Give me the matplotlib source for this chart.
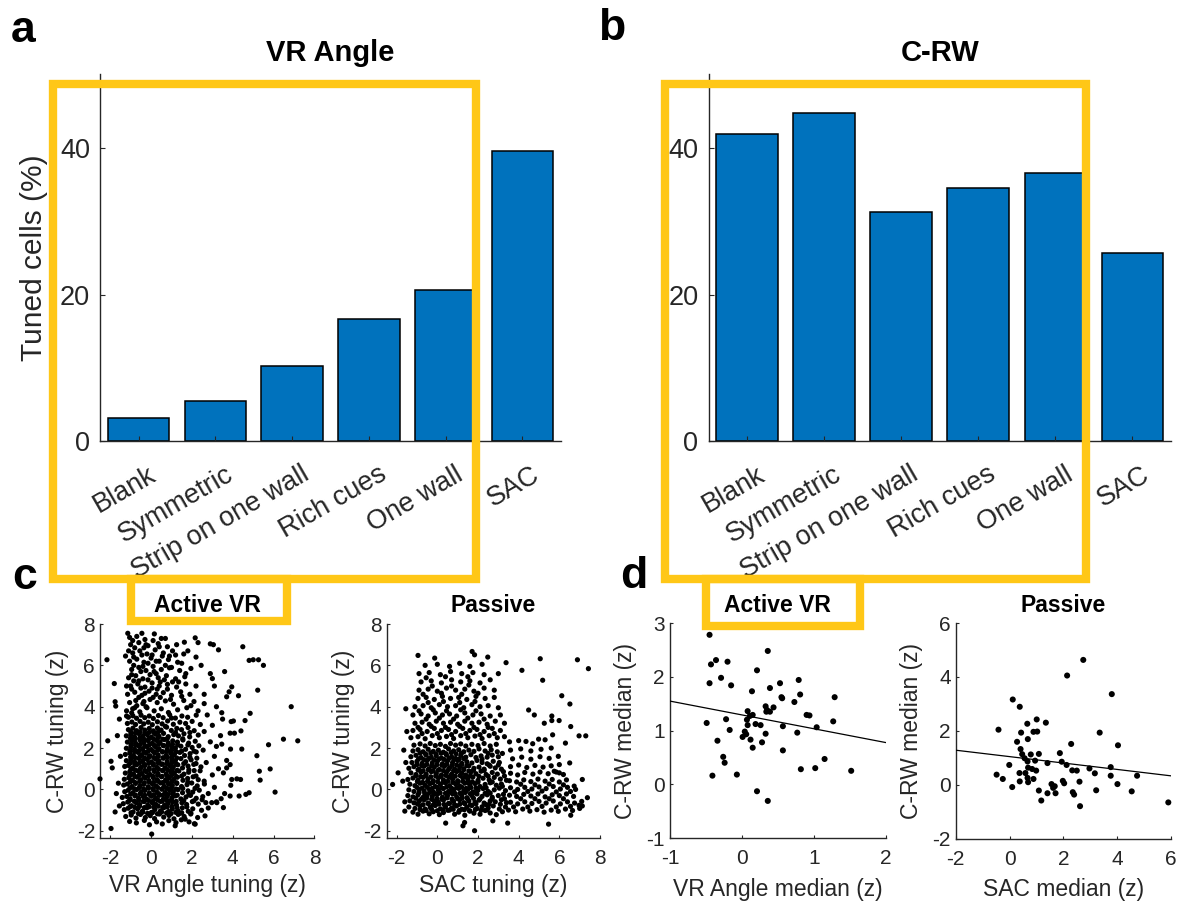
import numpy as np
import matplotlib
matplotlib.use("Agg")
import matplotlib.pyplot as plt
from matplotlib.patches import Rectangle
from matplotlib.transforms import ScaledTranslation

plt.rcParams["font.family"] = ["Liberation Sans", "DejaVu Sans"]
plt.rcParams["axes.unicode_minus"] = False

# ---------------------------------------------------------------- data
CONDITIONS = ["Blank", "Symmetric", "Strip on one wall", "Rich cues", "One wall", "SAC"]
VR_ANGLE_TUNED_PCT = [3.2, 5.5, 10.2, 16.7, 20.6, 39.6]
CRW_TUNED_PCT = [41.9, 44.8, 31.2, 34.5, 36.6, 25.6]
BAR_YTICKS = [0, 20, 40]

# single cells: (VR Angle tuning z, C-RW tuning z)
ACTIVE_TUNING = [
    # bulk of the population
    (-1.05,-1.55),(-0.72,-1.62),(-0.33,-1.5),(-0.08,-1.71),(0.27,-1.57),(0.55,-1.67),(0.87,-1.51),(1.22,-1.61),(1.48,-1.47),(1.86,-1.57),(2.12,-1.66),
    (-1.24,-1.31),(-0.97,-1.24),(-0.74,-1.39),(-0.52,-1.21),(-0.28,-1.36),(-0.04,-1.27),(0.17,-1.41),(0.41,-1.19),(0.62,-1.34),(0.88,-1.26),(1.12,-1.42),(1.33,-1.21),(1.62,-1.31),(1.94,-1.19),(2.28,-1.36),
    (-1.31,-0.98),(-1.12,-0.91),(-0.88,-1.09),(-0.66,-0.94),(-0.43,-1.06),(-0.21,-0.89),(0.02,-1.11),(0.19,-0.97),(0.46,-1.04),(0.63,-0.88),(0.86,-1.07),(1.04,-0.94),(1.31,-1.03),(1.53,-0.89),(1.82,-1.06),(2.04,-0.94),(2.47,-1.01),
    (-1.36,-0.69),(-1.14,-0.61),(-0.96,-0.79),(-0.74,-0.64),(-0.56,-0.73),(-0.33,-0.59),(-0.16,-0.76),(0.06,-0.65),(0.24,-0.73),(0.46,-0.58),(0.66,-0.77),(0.84,-0.67),(1.06,-0.61),(1.24,-0.75),(1.51,-0.65),(1.74,-0.73),(2.02,-0.59),(2.31,-0.71),(2.68,-0.64),
    (-1.41,-0.39),(-1.19,-0.34),(-1.02,-0.46),(-0.79,-0.31),(-0.61,-0.43),(-0.38,-0.35),(-0.21,-0.47),(0.01,-0.33),(0.22,-0.43),(0.39,-0.29),(0.61,-0.45),(0.79,-0.35),(1.02,-0.41),(1.19,-0.31),(1.46,-0.46),(1.71,-0.37),(1.93,-0.29),(2.21,-0.43),(2.53,-0.35),
    (-1.29,-0.11),(-1.12,-0.04),(-0.89,-0.16),(-0.71,-0.01),(-0.49,-0.13),(-0.31,-0.05),(-0.09,-0.17),(0.11,-0.03),(0.29,-0.13),(0.52,0.01),(0.69,-0.15),(0.91,-0.05),(1.09,-0.11),(1.32,-0.01),(1.54,-0.16),(1.81,-0.07),(2.04,-0.13),(2.36,-0.04),
    (-1.34,0.21),(-1.16,0.26),(-0.94,0.14),(-0.76,0.29),(-0.54,0.17),(-0.36,0.25),(-0.14,0.13),(0.06,0.27),(0.24,0.17),(0.46,0.31),(0.64,0.15),(0.86,0.25),(1.04,0.19),(1.26,0.29),(1.49,0.14),(1.76,0.23),(1.99,0.31),(2.26,0.17),(2.61,0.26),
    (-1.31,0.49),(-1.09,0.56),(-0.91,0.44),(-0.69,0.59),(-0.51,0.47),(-0.29,0.55),(-0.11,0.43),(0.11,0.57),(0.29,0.47),(0.51,0.61),(0.71,0.45),(0.89,0.55),(1.11,0.49),(1.29,0.59),(1.56,0.44),(1.79,0.53),(2.06,0.61),(2.31,0.47),
    (-1.26,0.79),(-1.04,0.86),(-0.86,0.74),(-0.64,0.89),(-0.46,0.77),(-0.24,0.85),(-0.06,0.73),(0.16,0.87),(0.34,0.77),(0.56,0.91),(0.74,0.75),(0.96,0.85),(1.14,0.79),(1.36,0.89),(1.61,0.74),(1.84,0.83),(2.11,0.91),
    (-1.29,1.11),(-1.11,1.16),(-0.89,1.04),(-0.71,1.19),(-0.49,1.07),(-0.31,1.15),(-0.09,1.03),(0.11,1.17),(0.29,1.07),(0.51,1.21),(0.69,1.05),(0.91,1.15),(1.09,1.09),(1.31,1.19),(1.54,1.04),(1.81,1.13),(2.09,1.21),(2.44,1.09),
    (-1.21,1.39),(-0.99,1.46),(-0.81,1.34),(-0.59,1.49),(-0.41,1.37),(-0.19,1.45),(0.01,1.33),(0.21,1.47),(0.39,1.37),(0.61,1.51),(0.79,1.35),(1.01,1.45),(1.19,1.39),(1.46,1.49),(1.69,1.34),(1.96,1.43),(2.24,1.51),
    (-1.26,1.69),(-1.04,1.76),(-0.86,1.64),(-0.64,1.79),(-0.46,1.67),(-0.24,1.75),(-0.06,1.63),(0.16,1.77),(0.34,1.67),(0.56,1.81),(0.74,1.65),(0.96,1.75),(1.14,1.69),(1.41,1.79),(1.64,1.64),(1.91,1.73),(2.21,1.81),
    (-1.21,1.99),(-0.99,2.06),(-0.81,1.94),(-0.59,2.09),(-0.41,1.97),(-0.19,2.05),(0.01,1.93),(0.21,2.07),(0.39,1.97),(0.61,2.11),(0.79,1.95),(1.01,2.05),(1.19,1.99),(1.46,2.09),(1.69,1.94),(2.01,2.03),(2.34,2.11),
    (-1.16,2.29),(-0.94,2.36),(-0.76,2.24),(-0.54,2.39),(-0.36,2.27),(-0.14,2.35),(0.06,2.23),(0.26,2.37),(0.44,2.27),(0.66,2.41),(0.84,2.25),(1.06,2.35),(1.29,2.29),(1.56,2.39),(1.84,2.24),(2.16,2.33),
    (-1.21,2.59),(-0.99,2.66),(-0.81,2.54),(-0.59,2.69),(-0.41,2.57),(-0.19,2.65),(0.01,2.53),(0.21,2.67),(0.39,2.57),(0.61,2.71),(0.84,2.55),(1.11,2.65),(1.34,2.59),(1.61,2.69),(1.89,2.54),(2.31,2.63),
    (-1.11,2.89),(-0.89,2.96),(-0.71,2.84),(-0.49,2.99),(-0.31,2.87),(-0.09,2.95),(0.11,2.83),(0.31,2.97),(0.49,2.87),(0.76,3.01),(0.99,2.85),(1.26,2.95),(1.49,2.89),(1.81,2.99),(2.11,2.84),
    (-1.16,3.19),(-0.94,3.26),(-0.76,3.14),(-0.54,3.29),(-0.36,3.17),(-0.14,3.25),(0.06,3.13),(0.31,3.27),(0.54,3.17),(0.81,3.31),(1.09,3.15),(1.41,3.25),(1.69,3.19),(2.01,3.29),(2.41,3.14),
    (-1.11,3.49),(-0.89,3.56),(-0.71,3.44),(-0.49,3.59),(-0.31,3.47),(-0.09,3.55),(0.11,3.43),(0.36,3.57),(0.59,3.47),(0.91,3.61),(1.19,3.45),(1.51,3.55),(1.79,3.49),(2.21,3.59),
    # densest part of the bulk
    (-0.98,-1.13),(-0.62,-1.17),(-0.4,-1.1),(-0.17,-1.16),(0.07,-1.12),(0.31,-1.18),(0.52,-1.09),(0.76,-1.14),(0.98,-1.17),(1.21,-1.11),(1.43,-1.15),
    (-1.02,-0.83),(-0.79,-0.87),(-0.57,-0.82),(-0.33,-0.88),(-0.1,-0.84),(0.13,-0.86),(0.35,-0.81),(0.57,-0.87),(0.79,-0.85),(1.02,-0.82),(1.27,-0.88),
    (-1.05,-0.53),(-0.82,-0.57),(-0.6,-0.52),(-0.38,-0.58),(-0.12,-0.54),(0.1,-0.56),(0.33,-0.51),(0.55,-0.57),(0.78,-0.55),(0.99,-0.52),(1.23,-0.58),
    (-1.0,-0.23),(-0.77,-0.27),(-0.54,-0.22),(-0.31,-0.28),(-0.08,-0.24),(0.14,-0.26),(0.37,-0.21),(0.58,-0.27),(0.82,-0.25),(1.05,-0.22),(1.28,-0.28),
    (-1.03,0.07),(-0.81,0.03),(-0.58,0.08),(-0.36,0.02),(-0.13,0.06),(0.09,0.04),(0.32,0.09),(0.55,0.03),(0.77,0.05),(1.0,0.08),(1.22,0.02),
    (-1.01,0.37),(-0.78,0.33),(-0.56,0.38),(-0.33,0.32),(-0.1,0.36),(0.12,0.34),(0.35,0.39),(0.57,0.33),(0.8,0.35),(1.03,0.38),(1.25,0.32),
    (-1.04,0.67),(-0.8,0.63),(-0.59,0.68),(-0.35,0.62),(-0.13,0.66),(0.09,0.64),(0.32,0.69),(0.54,0.63),(0.78,0.65),(1.0,0.68),(1.24,0.62),
    (-0.99,0.97),(-0.77,0.93),(-0.54,0.98),(-0.31,0.92),(-0.09,0.96),(0.14,0.94),(0.36,0.99),(0.59,0.93),(0.81,0.95),(1.04,0.98),(1.27,0.92),
    (-1.02,1.27),(-0.8,1.23),(-0.57,1.28),(-0.34,1.22),(-0.12,1.26),(0.11,1.24),(0.33,1.29),(0.56,1.23),(0.78,1.25),(1.01,1.28),(1.24,1.22),
    (-1.0,1.57),(-0.78,1.53),(-0.55,1.58),(-0.32,1.52),(-0.1,1.56),(0.13,1.54),(0.35,1.59),(0.58,1.53),(0.8,1.55),(1.03,1.58),(1.26,1.52),
    (-1.03,1.87),(-0.81,1.83),(-0.58,1.88),(-0.35,1.82),(-0.13,1.86),(0.1,1.84),(0.32,1.89),(0.55,1.83),(0.77,1.85),(1.0,1.88),(1.23,1.82),
    (-0.98,2.17),(-0.76,2.13),(-0.53,2.18),(-0.3,2.12),(-0.08,2.16),(0.15,2.14),(0.37,2.19),(0.6,2.13),(0.82,2.15),(1.05,2.18),
    (-1.01,2.47),(-0.79,2.43),(-0.56,2.48),(-0.33,2.42),(-0.11,2.46),(0.12,2.44),(0.34,2.49),(0.57,2.43),(0.79,2.45),
    (-0.99,2.77),(-0.77,2.73),(-0.54,2.78),(-0.31,2.72),(-0.09,2.76),(0.14,2.74),(0.36,2.79),
    (1.5,-1.13),(1.75,-0.85),(1.95,-1.15),(1.6,-0.55),(1.85,-0.25),(2.1,-0.55),(1.55,0.05),(1.8,0.35),(2.15,0.05),(1.5,0.65),
    (1.85,0.95),(2.2,0.65),(1.6,1.25),(1.9,1.55),(2.2,1.25),(1.5,1.85),(1.8,2.15),(2.1,1.85),(1.55,2.45),(1.9,2.75),
    (1.3,2.15),(1.2,2.75),(1.0,3.45),(0.7,3.05),
    # upper band
    (-1.2,3.8),(-0.9,3.9),(-0.55,3.75),(-0.2,3.95),(0.15,3.8),(0.5,3.9),(0.85,3.72),(1.3,3.85),(1.75,3.95),(2.3,3.8),
    (-1.05,4.2),(-0.75,4.3),(-0.4,4.15),(-0.05,4.35),(0.3,4.2),(0.7,4.28),(1.1,4.12),(1.6,4.3),(2.1,4.25),(2.6,4.15),
    (-1.15,4.6),(-0.8,4.7),(-0.45,4.55),(-0.1,4.75),(0.25,4.6),(0.6,4.68),(1.0,4.55),(1.45,4.72),(1.9,4.6),
    (-1.0,5.0),(-0.65,5.1),(-0.3,4.95),(0.05,5.15),(0.4,5.0),(0.8,5.08),(1.25,4.95),(1.7,5.1),(2.2,5.0),
    (-1.1,5.4),(-0.75,5.5),(-0.4,5.35),(-0.05,5.55),(0.35,5.4),(0.75,5.5),(1.2,5.35),(1.65,5.45),
    (-0.95,5.8),(-0.6,5.9),(-0.25,5.75),(0.1,5.95),(0.5,5.8),(0.9,5.88),(1.4,5.75),(1.95,5.85),
    (-1.05,6.2),(-0.7,6.3),(-0.35,6.15),(0.0,6.35),(0.4,6.2),(0.85,6.28),(1.3,6.15),
    (-0.9,6.6),(-0.55,6.7),(-0.2,6.55),(0.2,6.75),(0.6,6.6),(1.05,6.7),(1.6,6.55),
    (-1.0,7.0),(-0.6,7.1),(-0.15,6.95),(0.35,7.05),(0.8,6.9),(1.25,7.0),
    (-1.05,7.35),(-0.7,7.4),(-0.3,7.25),(0.5,7.3),
    (-0.95,3.7),(-0.7,4.05),(-0.25,4.0),(0.1,4.45),(-0.6,4.45),(-0.95,4.85),(-0.5,4.9),(-0.15,5.3),(-0.85,5.25),(0.15,5.7),
    (-0.5,5.7),(-0.85,6.0),(-0.15,6.1),(-0.45,6.5),(0.05,6.5),(-0.8,6.85),(-0.35,6.85),(0.1,7.2),(-0.9,7.2),(-0.45,7.55),
    (0.55,6.45),(0.65,5.3),(0.3,4.85),(1.0,5.9),(1.2,6.5),(0.95,4.35),(1.35,5.2),(-1.2,5.0),(-1.25,6.45),(-1.2,3.55),
    (-0.8,3.95),(-0.35,4.25),(0.45,4.45),(0.8,4.85),(-0.3,4.65),(0.05,4.9),(-0.6,5.25),(0.45,5.2),(1.05,5.2),(-0.95,5.55),
    (0.25,5.6),(0.7,6.0),(-0.4,5.95),(0.25,6.2),(-0.85,6.4),(0.4,6.9),(0.9,6.45),(-0.25,7.0),(0.7,7.3),(-1.1,6.7),
    (1.5,4.5),(1.95,4.05),(1.7,5.6),(1.5,6.1),
    # right flank
    (2.5,-0.5),(2.8,-0.2),(3.1,0.1),(2.6,0.4),(3.0,0.7),(3.3,1.0),(2.7,1.3),(3.1,1.6),(2.55,1.9),(2.9,2.3),
    (3.4,2.6),(2.6,2.8),(3.0,3.1),(3.5,3.4),(2.8,-0.9),(3.2,-0.6),(3.6,-0.2),(3.9,0.2),(2.4,0.9),(3.7,1.4),
    (2.75,3.6),(3.2,4.0),(2.6,4.6),(3.1,5.0),(2.9,5.6),(2.45,6.0),(3.6,5.7),(2.2,6.4),(1.8,6.7),(2.3,7.1),
    # left flank
    (-1.55,-0.8),(-1.6,0.3),(-1.5,1.6),(-1.65,2.6),(-1.55,3.4),(-1.7,-0.2),
    # isolated cells
    (0.16,7.52),(-1.14,7.55),(2.16,7.33),(2.9,7.04),(3.05,7.0),(3.3,6.75),(4.49,6.9),(1.63,7.12),(4.8,6.24),(5.0,6.27),
    (5.26,6.27),(5.5,6.0),(-2.16,6.27),(-1.8,5.12),(3.0,5.36),(3.95,4.96),(3.82,4.72),(3.7,4.48),(4.28,4.53),(5.22,4.8),
    (6.86,4.0),(4.85,3.68),(3.46,3.71),(3.92,3.28),(4.03,3.31),(4.6,3.33),(4.4,2.83),(4.08,2.72),(3.87,2.72),(6.48,2.43),
    (7.18,2.35),(5.75,2.16),(4.44,1.95),(3.89,1.95),(3.46,2.19),(3.2,2.08),(5.18,1.63),(5.83,0.99),(5.3,0.88),(5.34,0.45),
    (6.07,-0.13),(4.8,-0.16),(4.64,-0.24),(4.31,-0.32),(3.87,-0.32),(3.95,0.48),(4.2,0.51),(4.38,0.48),(3.54,0.8),(3.7,1.04),
    (3.87,1.2),(-2.12,2.35),(-2.5,0.51),(-1.96,-1.89),(0.03,-2.16),(-1.76,-1.09),(-1.96,1.36),(-1.9,1.04),(-1.76,4.24),(-1.73,4.03),
    (2.97,-0.64),(3.22,-0.64),(3.54,-0.88),(3.43,-0.45),(2.16,-1.68),(1.18,-1.76),(2.64,-1.28),(1.67,-1.44),
]

# single cells: (SAC tuning z, C-RW tuning z)
PASSIVE_TUNING = [
    # bulk of the population
    (-1.2,-1.1),(-0.95,-1.2),(-0.7,-1.05),(-0.4,-1.18),(-0.2,-1.08),(0.1,-1.22),(0.3,-1.12),(0.6,-1.0),(0.85,-1.2),(1.05,-1.1),(1.35,-1.25),(1.6,-1.05),(1.8,-1.15),(2.1,-1.2),(2.35,-1.02),(2.6,-1.14),(2.9,-1.22),(3.2,-1.08),
    (-1.4,-0.85),(-1.1,-0.92),(-0.85,-0.8),(-0.6,-0.95),(-0.35,-0.86),(-0.1,-0.78),(0.15,-0.94),(0.4,-0.84),(0.7,-0.9),(0.95,-0.8),(1.2,-0.96),(1.45,-0.86),(1.7,-0.78),(1.95,-0.92),(2.2,-0.84),(2.5,-0.9),(2.75,-0.8),(3.05,-0.95),(3.35,-0.85),
    (-1.35,-0.55),(-1.15,-0.65),(-0.9,-0.58),(-0.65,-0.5),(-0.45,-0.66),(-0.15,-0.56),(0.05,-0.62),(0.3,-0.52),(0.55,-0.68),(0.8,-0.58),(1.1,-0.5),(1.3,-0.64),(1.55,-0.56),(1.85,-0.62),(2.05,-0.52),(2.3,-0.66),(2.6,-0.56),(2.85,-0.6),(3.15,-0.5),(3.4,-0.64),
    (-1.45,-0.3),(-1.2,-0.36),(-0.95,-0.26),(-0.7,-0.38),(-0.5,-0.28),(-0.25,-0.34),(0.0,-0.24),(0.25,-0.38),(0.5,-0.3),(0.75,-0.22),(0.95,-0.36),(1.2,-0.28),(1.45,-0.4),(1.7,-0.3),(1.95,-0.22),(2.2,-0.34),(2.45,-0.26),(2.7,-0.38),(3.0,-0.3),(3.25,-0.24),
    (-1.4,-0.02),(-1.15,-0.1),(-0.9,0.0),(-0.65,-0.08),(-0.4,0.02),(-0.2,-0.12),(0.05,-0.04),(0.3,0.04),(0.55,-0.1),(0.8,-0.02),(1.05,0.05),(1.3,-0.08),(1.5,0.0),(1.75,-0.12),(2.0,-0.04),(2.25,0.04),(2.5,-0.1),(2.8,-0.02),(3.05,0.06),(3.35,-0.06),
    (-1.35,0.25),(-1.1,0.18),(-0.85,0.3),(-0.6,0.2),(-0.35,0.28),(-0.1,0.14),(0.15,0.24),(0.4,0.32),(0.6,0.18),(0.9,0.26),(1.1,0.16),(1.35,0.3),(1.6,0.2),(1.85,0.28),(2.1,0.14),(2.35,0.24),(2.6,0.32),(2.9,0.2),(3.15,0.26),
    (-1.45,0.48),(-1.2,0.55),(-0.95,0.45),(-0.7,0.58),(-0.45,0.5),(-0.2,0.42),(0.05,0.56),(0.3,0.46),(0.55,0.6),(0.75,0.5),(1.0,0.42),(1.25,0.56),(1.5,0.48),(1.75,0.6),(2.0,0.44),(2.25,0.54),(2.55,0.46),(2.8,0.58),(3.1,0.5),(3.4,0.44),
    (-1.3,0.8),(-1.05,0.72),(-0.8,0.84),(-0.55,0.74),(-0.3,0.86),(-0.05,0.76),(0.2,0.7),(0.45,0.82),(0.7,0.74),(0.95,0.86),(1.2,0.78),(1.4,0.7),(1.65,0.84),(1.9,0.76),(2.15,0.88),(2.4,0.72),(2.7,0.82),(2.95,0.74),(3.25,0.86),
    (-1.4,1.02),(-1.15,1.1),(-0.9,0.98),(-0.65,1.12),(-0.4,1.0),(-0.15,1.08),(0.1,0.96),(0.35,1.12),(0.6,1.04),(0.85,0.98),(1.1,1.1),(1.3,1.0),(1.55,1.14),(1.8,1.02),(2.05,1.08),(2.3,0.98),(2.6,1.12),(2.85,1.04),(3.15,0.98),
    (-1.25,1.3),(-1.0,1.36),(-0.75,1.26),(-0.5,1.4),(-0.25,1.28),(0.0,1.36),(0.25,1.24),(0.5,1.38),(0.75,1.3),(1.0,1.4),(1.2,1.26),(1.45,1.34),(1.7,1.28),(1.95,1.4),(2.2,1.3),(2.45,1.24),(2.75,1.36),(3.05,1.3),
    (-1.3,1.58),(-1.05,1.65),(-0.8,1.54),(-0.55,1.66),(-0.3,1.56),(-0.05,1.62),(0.2,1.52),(0.45,1.66),(0.7,1.58),(0.9,1.5),(1.15,1.64),(1.4,1.56),(1.65,1.68),(1.9,1.54),(2.15,1.62),(2.45,1.56),(2.7,1.66),(3.0,1.58),
    (-1.2,1.86),(-0.95,1.92),(-0.7,1.82),(-0.45,1.94),(-0.2,1.84),(0.05,1.9),(0.3,1.8),(0.55,1.96),(0.8,1.86),(1.05,1.92),(1.3,1.82),(1.55,1.9),(1.8,1.84),(2.05,1.96),(2.35,1.86),(2.65,1.92),(2.95,1.82),
    (-1.15,2.14),(-0.85,2.2),(-0.6,2.1),(-0.35,2.22),(-0.1,2.12),(0.15,2.18),(0.4,2.08),(0.65,2.22),(0.9,2.14),(1.15,2.2),(1.4,2.1),(1.7,2.18),(2.0,2.12),(2.3,2.22),(2.6,2.1),(2.9,2.18),
    # densest part of the bulk
    (-0.85,-0.98),(-0.55,-1.02),(-0.28,-0.97),(0.0,-1.03),(0.28,-0.99),(0.52,-1.01),(0.78,-0.96),(1.08,-1.02),(1.33,-0.98),(1.58,-1.03),(1.87,-0.97),(2.15,-1.01),(2.45,-0.99),
    (-0.98,-0.7),(-0.7,-0.74),(-0.45,-0.69),(-0.2,-0.75),(0.08,-0.71),(0.33,-0.73),(0.6,-0.68),(0.85,-0.74),(1.1,-0.72),(1.35,-0.69),(1.62,-0.75),(1.9,-0.7),(2.38,-0.73),
    (-1.05,-0.43),(-0.78,-0.47),(-0.52,-0.42),(-0.28,-0.48),(-0.02,-0.44),(0.22,-0.46),(0.48,-0.41),(0.72,-0.47),(1.0,-0.45),(1.22,-0.42),(1.5,-0.48),(1.78,-0.43),(2.1,-0.46),
    (-0.9,-0.16),(-0.62,-0.2),(-0.38,-0.15),(-0.12,-0.21),(0.14,-0.17),(0.4,-0.19),(0.63,-0.14),(0.88,-0.2),(1.12,-0.18),(1.38,-0.15),(1.62,-0.21),(1.88,-0.16),(2.35,-0.19),
    (-1.0,0.1),(-0.75,0.06),(-0.5,0.11),(-0.25,0.05),(0.0,0.09),(0.22,0.07),(0.46,0.12),(0.7,0.06),(0.95,0.08),(1.2,0.11),(1.42,0.05),(1.65,0.09),(1.9,0.07),
    (-0.98,0.38),(-0.72,0.34),(-0.48,0.39),(-0.22,0.33),(0.02,0.37),(0.28,0.35),(0.52,0.4),(0.76,0.34),(1.02,0.36),(1.25,0.39),(1.5,0.33),(1.72,0.37),(2.0,0.35),
    (-1.05,0.66),(-0.82,0.62),(-0.57,0.67),(-0.32,0.61),(-0.08,0.65),(0.18,0.63),(0.42,0.68),(0.65,0.62),(0.88,0.64),(1.12,0.67),(1.38,0.61),(1.62,0.65),(2.05,0.63),
    (-0.95,0.94),(-0.7,0.9),(-0.45,0.95),(-0.2,0.89),(0.05,0.93),(0.3,0.91),(0.55,0.96),(0.8,0.9),(1.05,0.92),(1.3,0.95),(1.55,0.89),(1.78,0.93),
    (-1.0,1.2),(-0.77,1.16),(-0.52,1.21),(-0.28,1.15),(-0.02,1.19),(0.22,1.17),(0.47,1.22),(0.72,1.16),(0.95,1.18),(1.2,1.21),(1.45,1.15),
    (-0.92,1.48),(-0.67,1.44),(-0.42,1.49),(-0.17,1.43),(0.08,1.47),(0.33,1.45),(0.58,1.5),(0.82,1.44),(1.07,1.46),(1.3,1.49),
    (-0.85,1.76),(-0.58,1.72),(-0.32,1.77),(-0.07,1.71),(0.18,1.75),(0.42,1.73),(0.68,1.78),(0.92,1.72),(1.18,1.74),
    (2.55,-0.72),(2.7,-0.45),(2.6,-0.18),(2.4,0.08),(2.7,0.36),(2.5,0.64),(2.3,0.92),(2.55,1.18),(2.2,1.46),(2.5,1.74),
    (3.1,-0.72),(3.3,-0.45),(3.2,0.15),(3.3,0.65),(3.0,1.18),(3.2,1.74),
    # cells with strong SAC tuning
    (3.5,-1.0),(3.85,-1.08),(4.2,-0.95),(4.55,-1.05),(4.9,-0.98),(5.25,-1.1),(5.6,-1.0),(5.95,-1.06),(6.3,-0.95),(6.65,-1.02),(7.0,-0.92),
    (3.6,-0.62),(3.95,-0.7),(4.3,-0.6),(4.65,-0.68),(5.0,-0.58),(5.35,-0.66),(5.7,-0.56),(6.05,-0.7),(6.4,-0.6),(6.75,-0.66),(7.1,-0.58),
    (3.55,-0.28),(3.9,-0.34),(4.25,-0.24),(4.6,-0.32),(4.95,-0.22),(5.3,-0.36),(5.65,-0.26),(6.0,-0.3),(6.35,-0.22),(6.7,-0.34),
    (3.6,0.08),(3.95,0.0),(4.3,0.1),(4.65,0.02),(5.0,0.12),(5.35,0.04),(5.7,0.14),(6.05,0.02),(6.4,0.1),(6.8,0.0),
    (3.55,0.42),(3.9,0.36),(4.25,0.46),(4.6,0.38),(4.95,0.5),(5.3,0.4),(5.65,0.48),(6.0,0.36),(6.35,0.46),
    (3.6,0.78),(3.95,0.7),(4.3,0.82),(4.7,0.74),(5.05,0.84),(5.45,0.76),(5.85,0.84),(6.2,0.72),
    (3.6,1.1),(4.0,1.18),(4.4,1.06),(4.8,1.16),(5.2,1.08),(5.6,1.14),(6.0,1.2),
    (3.7,1.48),(4.15,1.56),(4.6,1.46),(5.05,1.58),(5.5,1.5),(5.95,1.6),
    (3.6,1.9),(4.1,1.96),(4.6,1.86),(5.1,1.94),(5.6,2.0),(3.55,2.3),(4.0,2.36),(5.3,2.4),
    (3.75,-0.85),(4.1,-0.45),(4.45,-0.85),(4.8,-0.45),(5.15,-0.82),(5.5,-0.45),(5.85,-0.85),(6.2,-0.45),(6.55,-0.82),
    (3.8,-0.12),(4.45,-0.1),(5.15,-0.08),(5.85,-0.12),(6.55,-0.1),(4.1,0.25),(4.8,0.22),(5.5,0.26),(6.2,0.22),
    # upper band
    (-1.3,2.5),(-0.95,2.55),(-0.6,2.45),(-0.25,2.6),(0.1,2.5),(0.45,2.56),(0.8,2.46),(1.15,2.6),(1.5,2.5),(1.85,2.58),(2.2,2.46),(2.55,2.6),(2.95,2.5),(3.3,2.55),
    (-1.2,2.85),(-0.85,2.9),(-0.5,2.8),(-0.15,2.95),(0.2,2.85),(0.55,2.9),(0.9,2.8),(1.25,2.95),(1.6,2.85),(1.95,2.9),(2.3,2.8),(2.7,2.95),(3.1,2.85),
    (-1.1,3.2),(-0.75,3.25),(-0.4,3.15),(-0.05,3.3),(0.3,3.2),(0.65,3.25),(1.0,3.15),(1.35,3.3),(1.7,3.2),(2.05,3.25),(2.45,3.15),(2.85,3.3),(3.3,3.2),
    (-1.2,3.6),(-0.8,3.65),(-0.45,3.55),(-0.1,3.7),(0.25,3.6),(0.6,3.65),(0.95,3.55),(1.35,3.7),(1.75,3.6),(2.15,3.65),(2.6,3.55),(3.1,3.6),
    (-1.1,4.0),(-0.7,4.05),(-0.3,3.95),(0.1,4.1),(0.5,4.0),(0.9,4.05),(1.3,3.95),(1.7,4.1),(2.1,4.0),(2.5,4.05),(3.0,3.95),
    (-0.95,4.4),(-0.55,4.45),(-0.15,4.35),(0.25,4.5),(0.65,4.4),(1.05,4.45),(1.45,4.35),(1.9,4.5),(2.35,4.4),(2.8,4.45),
    (-0.9,4.8),(-0.45,4.85),(0.0,4.75),(0.45,4.9),(0.9,4.8),(1.35,4.85),(1.8,4.75),(2.3,4.9),(2.8,4.8),
    (-0.8,5.2),(-0.3,5.25),(0.2,5.15),(0.7,5.3),(1.15,5.2),(1.6,5.25),(2.1,5.15),(2.6,5.3),
    (-0.9,5.6),(-0.4,5.65),(0.15,5.55),(0.65,5.7),(1.2,5.6),(1.75,5.65),(2.3,5.55),(3.0,5.6),
    (-0.6,6.0),(0.0,6.05),(0.6,5.95),(1.1,6.1),(1.6,5.95),(2.2,6.05),
    (-0.75,2.7),(0.0,2.7),(0.7,2.65),(1.4,2.7),(2.1,2.65),(2.8,2.7),(-0.95,3.0),(-0.3,3.05),(0.4,3.0),(1.1,3.05),
    (1.8,3.0),(2.5,3.0),(-0.55,3.4),(0.1,3.45),(0.8,3.4),(1.5,3.45),(2.3,3.4),(-0.9,3.8),(-0.2,3.85),(0.45,3.8),
    (1.15,3.85),(1.9,3.8),(-0.45,4.2),(0.3,4.25),(1.1,4.2),(1.85,4.25),(-0.7,4.6),(0.2,4.65),(1.2,4.6),(2.0,4.65),
    (-0.25,5.0),(0.7,5.0),(1.55,5.05),(0.4,5.45),(-0.55,5.4),(1.5,5.45),
    # left flank
    (-1.6,-0.6),(-1.7,0.4),(-1.55,1.3),(-1.65,1.9),(-1.5,2.8),(-1.55,3.9),(-1.6,-1.05),
    # isolated cells
    (-0.95,6.48),(-0.13,6.35),(1.71,6.67),(1.83,6.51),(2.48,6.4),(3.38,6.13),(5.06,6.32),(6.89,6.27),(7.43,5.84),(5.18,5.28),
    (4.16,5.76),(6.12,4.53),(6.52,4.13),(6.56,3.04),(6.97,2.59),(7.3,2.59),(-2.2,0.24),(-1.93,0.8),(1.83,-2.0),(1.26,-1.76),
    (1.34,-1.6),(0.41,-1.63),(2.73,-1.52),(3.46,-1.63),(5.47,-1.68),(6.56,-1.25),(7.38,-0.4),(7.13,0.48),(6.97,-0.77),(7.13,-0.8),
    (5.99,3.33),(5.63,3.33),(5.26,3.2),(4.77,3.6),(4.49,3.84),(5.63,3.55),(4.36,2.32),(4.69,2.21),(4.98,2.43),(5.67,2.64),
    (6.3,2.24),(6.51,1.28),(6.0,0.8),(5.75,0.88),(6.73,0.16),
]

# per-session medians: (VR Angle median z, C-RW median z)
ACTIVE_MEDIANS = [
    (-0.45,2.78),(-0.43,2.23),(-0.36,2.31),(-0.2,2.28),(-0.45,1.88),(-0.29,1.98),(-0.15,1.84),(0.36,2.48),(0.21,2.12),(0.14,1.73),
    (0.39,1.79),(0.53,1.88),(0.79,1.94),(0.55,1.62),(0.56,1.6),(0.81,1.67),(0.73,1.53),(1.29,1.62),(0.33,1.45),(0.35,1.38),
    (0.39,1.35),(0.44,1.43),(0.34,1.35),(0.08,1.36),(0.11,1.27),(0.15,1.29),(0.07,1.2),(-0.49,1.14),(-0.22,1.21),(0.08,1.1),
    (0.19,1.12),(0.26,1.1),(0.57,1.08),(0.9,1.29),(0.94,1.28),(1.04,1.06),(1.27,1.17),(-0.17,1.01),(0.04,0.98),(0.01,0.88),
    (0.06,0.93),(0.12,0.83),(0.33,0.94),(0.28,0.78),(0.77,0.96),(-0.34,0.81),(0.15,0.68),(0.57,0.63),(-0.26,0.51),(-0.24,0.4),
    (1.15,0.47),(-0.41,0.16),(-0.07,0.18),(0.82,0.28),(1.02,0.3),(1.52,0.25),(0.21,-0.13),(0.36,-0.31),
]

# per-session medians: (SAC median z, C-RW median z)
PASSIVE_MEDIANS = [
    (2.74,4.63),(2.14,4.05),(3.8,3.36),(0.12,3.16),(0.38,2.89),(1.01,2.42),(1.35,2.3),(0.66,2.26),(-0.41,2.04),(0.43,1.93),
    (0.89,1.96),(1.03,1.97),(3.35,1.93),(0.68,1.69),(0.28,1.59),(2.29,1.51),(4.03,1.46),(0.41,1.32),(0.47,1.13),(0.79,1.12),
    (1.09,1.14),(1.87,1.17),(0.56,0.98),(0.67,0.86),(-0.01,0.73),(0.95,0.89),(1.41,0.8),(1.94,0.85),(2.12,0.73),(0.69,0.63),
    (0.84,0.58),(0.99,0.52),(0.59,0.43),(0.37,0.43),(-0.48,0.37),(2.33,0.53),(2.5,0.52),(2.97,0.6),(3.17,0.42),(3.76,0.33),
    (3.76,0.65),(4.74,0.33),(-0.25,0.21),(0.1,-0.09),(0.38,0.12),(0.69,0.09),(0.89,0.21),(0.67,0.25),(1.09,-0.22),(1.18,-0.59),
    (1.41,-0.32),(1.56,0.02),(1.62,-0.12),(1.71,-0.32),(1.68,-0.06),(1.98,0.14),(2.03,0.05),(2.35,-0.28),(2.4,-0.37),(2.6,0.11),
    (2.62,-0.8),(3.22,-0.21),(4.01,0.02),(4.54,-0.25),(5.9,-0.66),
]

# least-squares lines: (intercept, slope)
ACTIVE_FIT = (1.29, -0.257)
PASSIVE_FIT = (1.04, -0.119)

# ---------------------------------------------------------------- layout
W, H = 1182, 905
INK = "#262626"
BAR_BLUE = "#0072BD"
GOLD = "#FFC717"

fig = plt.figure(figsize=(W / 100, H / 100), dpi=100)


def axes_px(x0, y0, x1, y1):
    return fig.add_axes([x0 / W, 1 - y1 / H, (x1 - x0) / W, (y1 - y0) / H])


def matlab_style(ax, tick_size, tick_len):
    ax.spines["top"].set_visible(False)
    ax.spines["right"].set_visible(False)
    for side in ("left", "bottom"):
        ax.spines[side].set_color(INK)
        ax.spines[side].set_linewidth(1.0)
    ax.tick_params(direction="in", colors=INK, labelcolor=INK,
                   labelsize=tick_size, length=tick_len, width=0.8)


def bar_panel(ax, values, title, ylabel=None):
    x = np.arange(1, len(CONDITIONS) + 1)
    ax.bar(x, values, width=0.8, color=BAR_BLUE, edgecolor="black", linewidth=1.1)
    ax.set_xlim(0.5, 6.5)
    ax.set_ylim(0, 50)
    ax.set_yticks(BAR_YTICKS)
    ax.set_xticks(x)
    ax.set_xticklabels(CONDITIONS, rotation=30, ha="right", va="top",
                       rotation_mode="anchor")
    matlab_style(ax, 19.5, 3.5)
    ax.tick_params(axis="y", pad=7.3)
    ax.tick_params(axis="x", pad=14.5)
    ax.set_title(title, fontsize=21, fontweight="bold", pad=9.7)
    if ylabel:
        ax.set_ylabel(ylabel, fontsize=21.5, color=INK)
        ax.yaxis.set_label_coords(-0.1136, 0.5)
    shift = ScaledTranslation(9 / 100, 0, fig.dpi_scale_trans)
    for lbl in ax.get_xticklabels():
        lbl.set_transform(lbl.get_transform() + shift)


def scatter_panel(ax, pts, xlim, ylim, xticks, yticks, xlabel, ylabel, title,
                  size, xlab_y, ylab_x, title_pad, fit=None):
    pts = np.asarray(pts)
    ax.scatter(pts[:, 0], pts[:, 1], s=size, c="black", edgecolors="none",
               clip_on=False, zorder=3)
    if fit is not None:
        xs = np.array(xlim)
        ax.plot(xs, fit[0] + fit[1] * xs, color="black", lw=0.9, zorder=4)
    ax.set_xlim(*xlim)
    ax.set_ylim(*ylim)
    ax.set_xticks(xticks)
    ax.set_yticks(yticks)
    matlab_style(ax, 15, 2.2)
    ax.tick_params(axis="x", pad=8)
    ax.tick_params(axis="y", pad=3.6)
    ax.set_xlabel(xlabel, fontsize=16.5, color=INK)
    ax.set_ylabel(ylabel, fontsize=16.5, color=INK)
    ax.xaxis.set_label_coords(0.5, xlab_y)
    ax.yaxis.set_label_coords(ylab_x, 0.5)
    ax.set_title(title, fontsize=16.5, fontweight="bold", pad=title_pad)


# a / b: fraction of tuned cells per environment
ax_a = axes_px(100.3, 74.5, 560.7, 441.3)
bar_panel(ax_a, VR_ANGLE_TUNED_PCT, "VR Angle", "Tuned cells (%)")
ax_b = axes_px(708.5, 74.5, 1171, 441.3)
bar_panel(ax_b, CRW_TUNED_PCT, "C-RW")

# c: single-cell tuning
ax_c1 = axes_px(100, 624, 314.5, 838)
scatter_panel(ax_c1, ACTIVE_TUNING, (-2.5, 8), (-2.35, 8), [-2, 0, 2, 4, 6, 8],
              [-2, 0, 2, 4, 6, 8], "VR Angle tuning (z)", "C-RW tuning (z)",
              "Active VR", 14, -0.168, -0.145, 9)
ax_c2 = axes_px(386.5, 624, 600, 838)
scatter_panel(ax_c2, PASSIVE_TUNING, (-2.5, 8), (-2.35, 8), [-2, 0, 2, 4, 6, 8],
              [-2, 0, 2, 4, 6, 8], "SAC tuning (z)", "C-RW tuning (z)",
              "Passive", 14, -0.168, -0.148, 8.5)

# d: session medians with linear fits
ax_d1 = axes_px(670, 623, 885.7, 838)
scatter_panel(ax_d1, ACTIVE_MEDIANS, (-1, 2), (-1, 3), [-1, 0, 1, 2],
              [-1, 0, 1, 2, 3], "VR Angle median (z)", "C-RW median (z)",
              "Active VR", 19, -0.184, -0.153, 8.2, fit=ACTIVE_FIT)
ax_d2 = axes_px(955.7, 623, 1171, 838.5)
scatter_panel(ax_d2, PASSIVE_MEDIANS, (-2, 6), (-2, 6), [-2, 0, 2, 4, 6],
              [-2, 0, 2, 4, 6], "SAC median (z)", "C-RW median (z)",
              "Passive", 19, -0.184, -0.15, 8.2, fit=PASSIVE_FIT)

# panel letters
for letter, (lx, ly) in {"a": (11, 42), "b": (598, 40), "c": (12, 589), "d": (620, 588)}.items():
    fig.text(lx / W, 1 - ly / H, letter, fontsize=32, fontweight="bold",
             ha="left", va="baseline", color="black")

# highlight frames
for x0, y0, x1, y1 in [(52.5, 84, 476, 579), (665, 84, 1086, 578.5),
                       (131, 579, 287, 621), (705.5, 578.5, 860.3, 626)]:
    fig.add_artist(Rectangle((x0 / W, 1 - y1 / H), (x1 - x0) / W, (y1 - y0) / H,
                             transform=fig.transFigure, fill=False, edgecolor=GOLD,
                             linewidth=6, joinstyle="miter", zorder=20))

fig.savefig("out.png", dpi=100)
